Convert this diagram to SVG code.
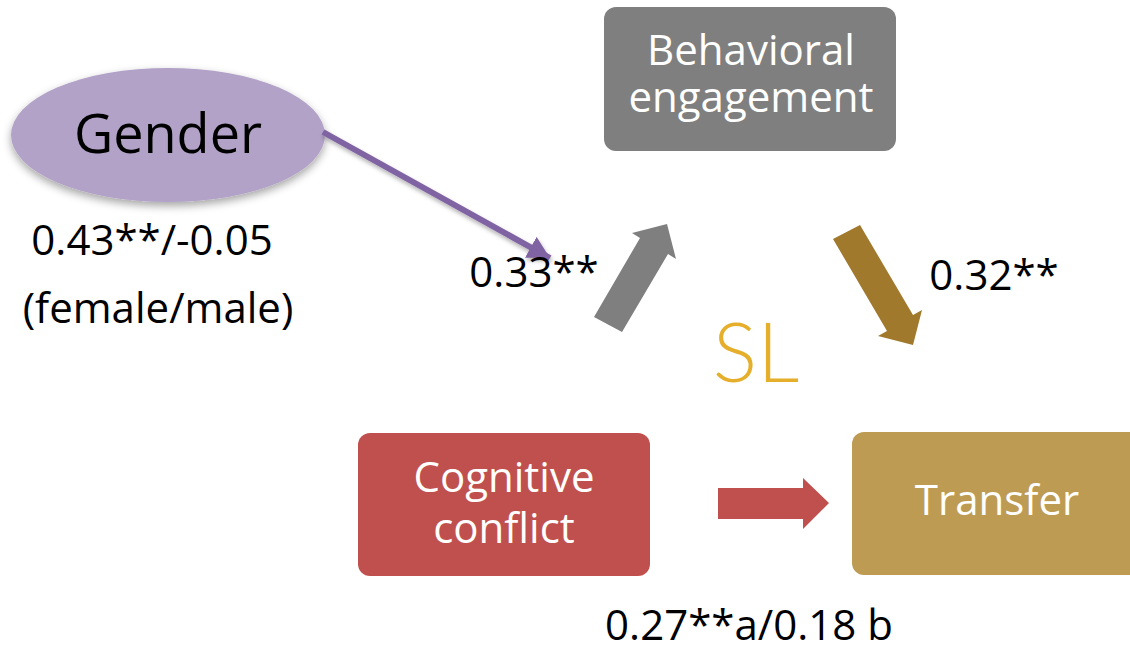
<svg xmlns="http://www.w3.org/2000/svg" width="1130" height="651" viewBox="0 0 1130 651">
<style>
.lbl{font-family:"Open Sans","Liberation Sans",sans-serif;font-size:42px;fill:#000}
.box{font-family:"Open Sans","Liberation Sans",sans-serif;font-size:42px;fill:#fff;text-anchor:middle}
</style>
<defs>
<filter id="sh" x="-20%" y="-20%" width="140%" height="150%">
<feDropShadow dx="0" dy="4" stdDeviation="4" flood-color="#000" flood-opacity="0.35"/>
</filter>
<filter id="lsh" x="-10%" y="-10%" width="120%" height="130%">
<feDropShadow dx="1" dy="3" stdDeviation="2" flood-color="#000" flood-opacity="0.3"/>
</filter>
<marker id="ph" markerUnits="userSpaceOnUse" markerWidth="24" markerHeight="24" viewBox="0 0 24 24" refX="22" refY="12" orient="auto">
<path d="M0,0 L22,12 L0,24 Z" fill="#8064A2"/>
</marker>
</defs>

<g id="gender">
<ellipse cx="168" cy="135" rx="157" ry="67" fill="#B2A2C7" filter="url(#sh)"/>
<text x="168" y="153" font-family="Open Sans, Liberation Sans, sans-serif" font-size="54" text-anchor="middle" fill="#000">Gender</text>
</g>

<g id="behavioral-engagement">
<rect x="604" y="7" width="292" height="144" rx="12" fill="#7F7F7F"/>
<text class="box"><tspan x="751" y="65">Behavioral</tspan><tspan x="751" y="112">engagement</tspan></text>
</g>

<g id="cognitive-conflict">
<rect x="358" y="433" width="292" height="143" rx="12" fill="#C0504D"/>
<text class="box"><tspan x="504" y="492">Cognitive</tspan><tspan x="504" y="543">conflict</tspan></text>
</g>

<g id="transfer">
<rect x="852" y="432" width="300" height="143" rx="12" fill="#BE9B52"/>
<text class="box" x="997" y="515">Transfer</text>
</g>

<g id="connectors">
<line x1="323" y1="132" x2="550" y2="258" stroke="#8064A2" stroke-width="6" marker-end="url(#ph)" filter="url(#lsh)"/>
<polygon points="594,317 640,238 632,233 667,224 676,259 668,254 622,332" fill="#7F7F7F"/>
<polygon points="833,239 887,331 878,336 913,345 922,310 913,315 860,225" fill="#A0792D"/>
<polygon points="718,488 803,488 803,478 829,503 803,529 803,519 718,519" fill="#C0504D"/>
</g>

<g id="labels">
<text class="lbl" x="152" y="255" text-anchor="middle">0.43**/-0.05</text>
<text class="lbl" x="158" y="323" text-anchor="middle">(female/male)</text>
<text class="lbl" x="534" y="287" text-anchor="middle">0.33**</text>
<text class="lbl" x="994" y="290" text-anchor="middle">0.32**</text>
<text class="lbl" x="749" y="640" text-anchor="middle">0.27**a/0.18 b</text>
<text x="756" y="382" font-family="Lato, Open Sans, sans-serif" font-weight="300" font-size="83" fill="#E5AE2B" text-anchor="middle">SL</text>
</g>
</svg>
